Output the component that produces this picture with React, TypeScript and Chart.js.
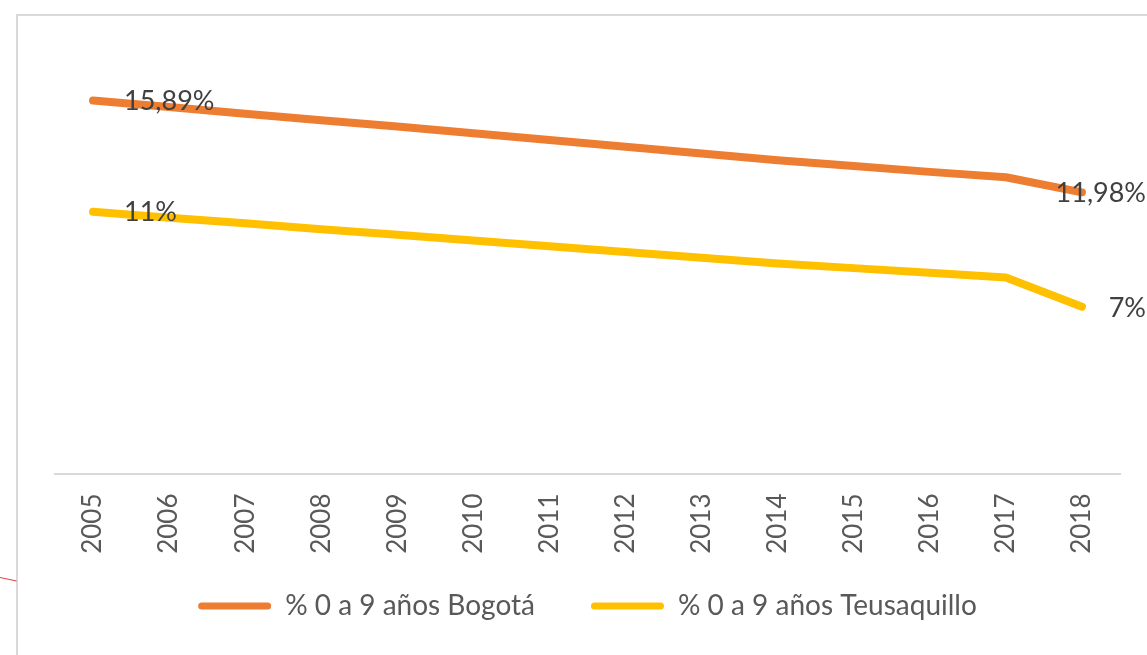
import React, { useEffect, useRef } from "react";
import { Chart, registerables } from "chart.js";

Chart.register(...registerables);

const years = ["2005", "2006", "2007", "2008", "2009", "2010", "2011", "2012", "2013", "2014", "2015", "2016", "2017", "2018"];
const bogota = [15.89, 15.61, 15.33, 15.05, 14.78, 14.5, 14.21, 13.92, 13.63, 13.35, 13.1, 12.85, 12.62, 11.98];
const teusaquillo = [11.15, 10.9, 10.66, 10.41, 10.17, 9.93, 9.68, 9.44, 9.19, 8.95, 8.75, 8.55, 8.35, 7.1];
const seriesNames = ["% 0 a 9 años Bogotá", "% 0 a 9 años Teusaquillo"];
const seriesColors = ["#ED7D31", "#FFC000"];
const labelDecimals = [2, 0];
const yMin = 0;
const yMax = 18;

const fmt = (v: number, d: number) => v.toFixed(d).replace(".", ",") + "%";

const endLabels = {
  id: "endLabels",
  afterLayout(chart: any) {
    // let the rotated year labels draw beyond the (shortened) axis box
    const x = chart.scales.x;
    if (x) x.bottom = chart.height;
  },
  afterDatasetsDraw(chart: any) {
    const ctx = chart.ctx;
    ctx.save();
    ctx.font = "27px Lato";
    ctx.fillStyle = "#404040";
    ctx.textBaseline = "middle";
    ctx.textAlign = "left";
    const limit = chart.width - 1;
    chart.data.datasets.forEach((ds: any, di: number) => {
      const meta = chart.getDatasetMeta(di);
      [0, meta.data.length - 1].forEach((i) => {
        const pt = meta.data[i];
        const text = fmt(ds.data[i], labelDecimals[di]);
        const w = ctx.measureText(text).width;
        let x = pt.x + 31;
        if (x + w > limit) x = limit - w;
        ctx.fillText(text, x, pt.y + 1);
      });
    });
    ctx.restore();
  },
};

export default function App() {
  const ref = useRef<HTMLCanvasElement>(null);
  useEffect(() => {
    if (!ref.current) return;
    const chart = new Chart(ref.current, {
      type: "line",
      data: {
        labels: years,
        datasets: [bogota, teusaquillo].map((d, i) => ({
          label: seriesNames[i],
          data: d,
          borderColor: seriesColors[i],
          backgroundColor: seriesColors[i],
          borderWidth: 8,
          borderCapStyle: "round" as const,
          borderJoinStyle: "round" as const,
          pointRadius: 0,
          pointHoverRadius: 0,
          tension: 0,
          clip: false as any,
        })),
      },
      options: {
        responsive: false,
        animation: false,
        layout: { padding: { left: 37, right: 27, top: 35, bottom: 25 } },
        scales: {
          x: {
            type: "category",
            offset: true,
            grid: { display: false, drawTicks: false },
            border: { display: true, color: "#d9d9d9", width: 2 },
            ticks: {
              minRotation: 90,
              maxRotation: 90,
              padding: 20,
              color: "#595959",
              font: { family: "Lato", size: 26 },
            },
            afterFit: (s: any) => {
              s.height = 62.5;
            },
          },
          y: { display: false, min: yMin, max: yMax },
        },
        plugins: {
          tooltip: { enabled: false },
          legend: {
            position: "bottom",
            labels: {
              color: "#595959",
              font: { family: "Lato", size: 28 },
              boxWidth: 73,
              boxHeight: 7,
              padding: 56,
              useBorderRadius: true,
              borderRadius: 3.5,
              generateLabels: (c: any) =>
                (Chart.defaults.plugins.legend.labels as any)
                  .generateLabels(c)
                  .map((l: any) => ({ ...l, lineWidth: 0, fillStyle: l.strokeStyle })),
            },
          },
        },
      },
      plugins: [endLabels],
    });
    return () => chart.destroy();
  }, []);

  return (
    <>
      <div
        style={{
          position: "absolute",
          left: 16,
          top: 14,
          width: 1131,
          height: 641,
          borderTop: "2px solid #d9d9d9",
          borderLeft: "2px solid #d9d9d9",
          boxSizing: "border-box",
          background: "#fff",
        }}
      >
        <canvas ref={ref} width={1129} height={639} style={{ display: "block" }} />
      </div>
      <div
        style={{
          position: "absolute",
          left: 0,
          top: 577,
          width: 16.5,
          height: 1,
          background: "#e0404a",
          transform: "rotate(12deg)",
          transformOrigin: "0 0",
        }}
      />
    </>
  );
}
